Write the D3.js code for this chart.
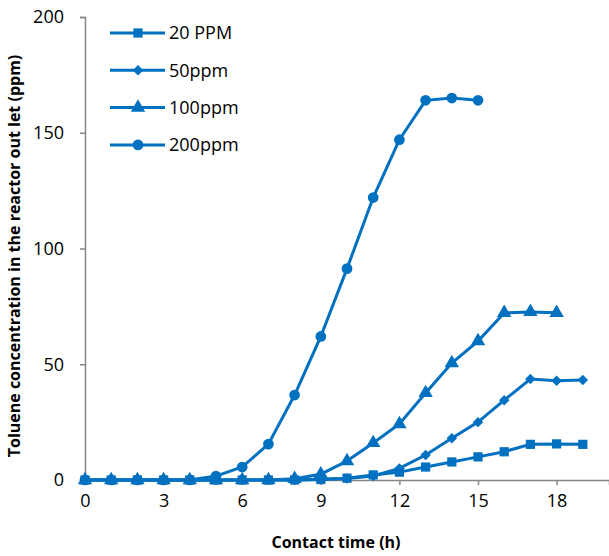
<!DOCTYPE html>
<html lang="en">
<head>
<meta charset="utf-8">
<title>Toluene outlet</title>
<script src="https://d3js.org/d3.v7.min.js"></script>
<style>
  body { margin: 0; background: #fff; }
  text { font-family: "Open Sans", sans-serif; fill: #000; }
</style>
</head>
<body>
<script>
// data
var hours = [0,1,2,3,4,5,6,7,8,9,10,11,12,13,14,15,16,17,18,19];
var ppm20  = [0,0,0,0,0,0,0,0,0,0.2,0.8,2.2,3.4,5.6,7.8,10,12.2,15.4,15.6,15.4];
var ppm50  = [0,0,0,0,0,0,0,0,0,0.3,0.6,1.7,5,10.8,18,25,34.5,43.6,42.9,43.2];
var ppm100 = [0,0,0,0,0,0,0,0,0.5,2.5,8.2,16,24.2,37.6,50.5,60,72.2,72.6,72.2];
var ppm200 = [0,0,0,0,0,1.7,5.6,15.5,36.7,62,91.3,122,147,164,165,164];
var seriesNames = ["20 PPM", "50ppm", "100ppm", "200ppm"];
var xTicks = [0,3,6,9,12,15,18];
var yTicks = [0,50,100,150,200];

var w = 609, h = 556;
var color = "#0070c0";
// square, diamond (rotated square), triangle, circle
var shapes = [d3.symbolSquare, d3.symbolSquare, d3.symbolTriangle, d3.symbolCircle];
var sizes = [85, 55, 90, 90];
var rot = [0, 45, 0, 0];

var svg = d3.select("body").append("svg")
    .attr("width", w)
    .attr("height", h);

var x = d3.scaleLinear().domain([0, 20]).range([85, 609]);
var y = d3.scaleLinear().domain([0, 200]).range([480, 17]);

// axes
var yAxis = svg.append("g")
    .attr("transform", "translate(85,0)")
    .call(d3.axisLeft(y).tickValues(yTicks).tickSize(5).tickPadding(16));
var xAxis = svg.append("g")
    .attr("transform", "translate(0,480)")
    .call(d3.axisBottom(x).tickValues(xTicks).tickSize(5).tickPadding(9));

[xAxis, yAxis].forEach(function(a){
  a.select(".domain").attr("stroke", "#868686").attr("stroke-width", 1.5);
  a.selectAll(".tick line").attr("stroke", "#868686").attr("stroke-width", 1.5);
  a.selectAll(".tick text").style("font-size", "18px").style("font-family", "'Open Sans', sans-serif").attr("fill", "#000");
});

// axis titles
svg.append("text")
   .attr("x", 336).attr("y", 548)
   .attr("text-anchor", "middle")
   .style("font-size", "16px").style("font-weight", "bold")
   .text("Contact time (h)");

svg.append("text")
   .attr("transform", "translate(20,256) rotate(-90)")
   .attr("text-anchor", "middle")
   .style("font-size", "16px").style("font-weight", "bold")
   .text("Toluene concentration in the reactor out let (ppm)");

// lines and markers
var allSeries = [ppm20, ppm50, ppm100, ppm200];
var line = d3.line()
    .x(function(d, i){ return x(hours[i]); })
    .y(function(d){ return y(d); });

allSeries.forEach(function(vals, s){
  svg.append("path")
     .datum(vals)
     .attr("d", line)
     .attr("fill", "none")
     .attr("stroke", color)
     .attr("stroke-width", 3);
  svg.selectAll(".m" + s)
     .data(vals)
     .enter()
     .append("path")
     .attr("class", "m" + s)
     .attr("d", d3.symbol().type(shapes[s]).size(sizes[s]))
     .attr("transform", function(d, i){
        return "translate(" + x(hours[i]) + "," + y(d) + ") rotate(" + rot[s] + ")";
     })
     .attr("fill", color);
});

// legend
var legend = svg.selectAll(".legend")
    .data(seriesNames)
    .enter()
    .append("g")
    .attr("class", "legend")
    .attr("transform", function(d, i){ return "translate(110," + (33 + i * 37.3) + ")"; });

legend.append("line")
   .attr("x1", 0).attr("x2", 55)
   .attr("stroke", color).attr("stroke-width", 3);
legend.append("path")
   .attr("d", function(d, i){ return d3.symbol().type(shapes[i]).size(sizes[i])(); })
   .attr("transform", function(d, i){ return "translate(28,0) rotate(" + rot[i] + ")"; })
   .attr("fill", color);
legend.append("text")
   .attr("x", 59).attr("dy", "0.36em")
   .style("font-size", "18px")
   .text(function(d){ return d; });
</script>
</body>
</html>
